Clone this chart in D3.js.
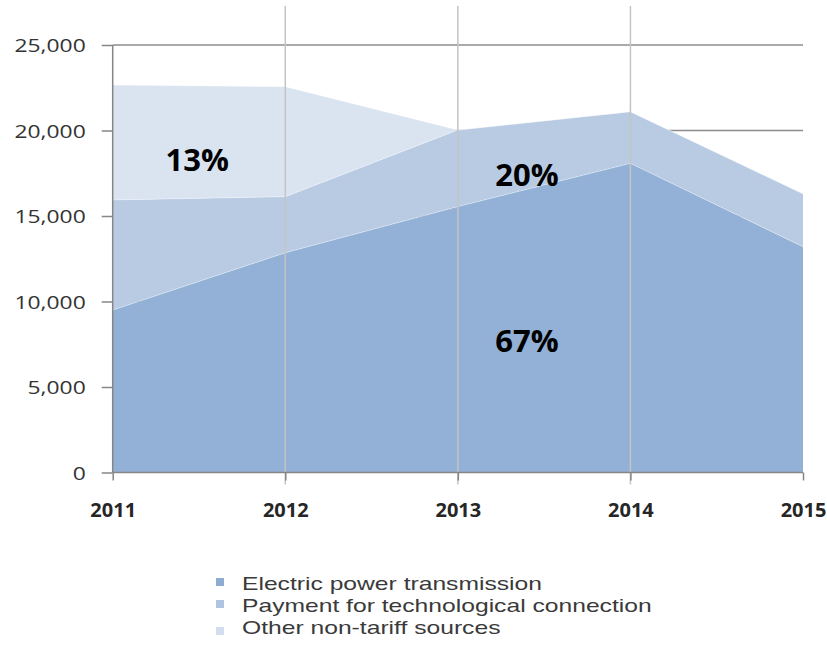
<!DOCTYPE html>
<html>
<head>
<meta charset="utf-8">
<script src="https://d3js.org/d3.v7.min.js"></script>
<style>
  body { margin: 0; background: #fff; }
</style>
</head>
<body>
<div id="Area"></div>
<script>
// chart values
var years = [2011, 2012, 2013, 2014, 2015];
var electric = [9500, 12850, 15550, 18080, 13200];
var technological = [6440, 3280, 4480, 3020, 3100];
var other = [6720, 6430, 0, 0, 0];
var seriesNames = ["Electric power transmission", "Payment for technological connection", "Other non-tariff sources"];
var yTicks = [0, 5000, 10000, 15000, 20000, 25000];
var shareLabels = ["13%", "20%", "67%"];
var shareYears = [2011.49, 2013.4, 2013.4];
var shareValues = [18360, 17460, 7750];

var colors = ["#93b1d6", "#b8cbe3", "#dae4f0"];
var legendColors = ["#8eabd2", "#afc4df", "#d2deee"];

// set the dimensions and margins of the graph
var margin = {top: 45, right: 24, bottom: 186.5, left: 112.7},
    width = 827 - margin.left - margin.right,
    height = 659 - margin.top - margin.bottom;

var svg = d3.select("#Area")
  .append("svg")
    .attr("width", 827)
    .attr("height", 659)
  .append("g")
    .attr("transform", "translate(" + margin.left + "," + margin.top + ")");

var rows = years.map(function(yr, i) {
  return {year: yr, e: electric[i], t: technological[i], o: other[i]};
});

var stacked = d3.stack().keys(["e", "t", "o"])(rows);

var x = d3.scaleLinear()
  .domain([2011, 2015])
  .range([0, width]);

var y = d3.scaleLinear()
  .domain([0, 25000])
  .range([height, 0]);

// horizontal grid lines, behind the areas
svg.append("g")
  .selectAll("line")
  .data(yTicks.filter(function(d) { return d > 0; }))
  .enter()
  .append("line")
    .attr("x1", 0)
    .attr("x2", width)
    .attr("y1", function(d) { return y(d); })
    .attr("y2", function(d) { return y(d); })
    .style("stroke", "#8c8c8c")
    .style("stroke-width", 1.5);

// areas
var area = d3.area()
  .x(function(d) { return x(d.data.year); })
  .y0(function(d) { return y(d[0]); })
  .y1(function(d) { return y(d[1]); });

svg.append("g")
  .selectAll("path")
  .data(stacked)
  .enter()
  .append("path")
    .attr("d", area)
    .style("fill", function(d, i) { return colors[i]; });

// thin light edge along each layer top
svg.append("g")
  .selectAll("path")
  .data(stacked)
  .enter()
  .append("path")
    .attr("d", d3.line()
      .x(function(d) { return x(d.data.year); })
      .y(function(d) { return y(d[1]); }))
    .style("fill", "none")
    .style("stroke", "#ffffff")
    .style("stroke-opacity", 0.35)
    .style("stroke-width", 1);

// vertical grid lines, drawn over the areas
svg.append("g")
  .selectAll("line")
  .data(years.slice(1, 4))
  .enter()
  .append("line")
    .attr("x1", function(d) { return x(d); })
    .attr("x2", function(d) { return x(d); })
    .attr("y1", -39)
    .attr("y2", height + 12)
    .style("stroke", "#c4c4c4")
    .style("stroke-width", 1.5);

// Y axis
var yAxis = svg.append("g")
  .call(d3.axisLeft(y).tickValues(yTicks).tickSize(11).tickPadding(16).tickFormat(d3.format(",")));
yAxis.select(".domain").attr("stroke", "#868686").attr("stroke-width", 1.5).attr("d", "M0," + y(25000) + "V" + y(0));
yAxis.selectAll(".tick line").attr("stroke", "#868686").attr("stroke-width", 1.5);
yAxis.selectAll(".tick text")
  .attr("x", null)
  .attr("dy", null)
  .attr("dominant-baseline", "central")
  .attr("transform", "translate(-27,0) scale(1.27,1)")
  .style("font-family", "'Open Sans', sans-serif")
  .style("font-size", "18px")
  .style("fill", "#333");

// X axis
var xAxis = svg.append("g")
  .attr("transform", "translate(0," + height + ")")
  .call(d3.axisBottom(x).tickValues(years).tickSize(8).tickPadding(22).tickFormat(d3.format("d")));
xAxis.select(".domain").attr("stroke", "#868686").attr("stroke-width", 1.5).attr("d", "M0,0H" + width);
xAxis.selectAll(".tick line").attr("stroke", "#868686").attr("stroke-width", 1.5);
xAxis.selectAll(".tick text")
  .style("font-family", "'Open Sans', sans-serif")
  .style("font-weight", "bold")
  .style("font-size", "20px")
  .style("fill", "#262626");

// share labels
svg.append("g")
  .selectAll("text")
  .data(shareLabels)
  .enter()
  .append("text")
    .attr("x", function(d, i) { return x(shareYears[i]); })
    .attr("y", function(d, i) { return y(shareValues[i]); })
    .attr("text-anchor", "middle")
    .attr("dominant-baseline", "central")
    .style("font-family", "'Open Sans', sans-serif")
    .style("font-weight", "bold")
    .style("font-size", "31px")
    .style("fill", "#000")
    .text(function(d) { return d; });

// legend
var legend = d3.select("svg").append("g")
  .attr("transform", "translate(216,590)");

var item = legend.selectAll("g")
  .data(seriesNames)
  .enter()
  .append("g")
    .attr("transform", function(d, i) { return "translate(0," + (i * 22) + ")"; });

item.append("rect")
  .attr("x", 0)
  .attr("y", function(d, i) { return i == 2 ? -7 : -12; })
  .attr("width", 8)
  .attr("height", 8)
  .style("fill", function(d, i) { return legendColors[i]; });

item.append("text")
  .attr("transform", "translate(26,0) scale(1.37,1)")
  .style("font-family", "'Liberation Sans', Arial, sans-serif")
  .style("font-size", "18px")
  .style("fill", "#3a3a3a")
  .text(function(d) { return d; });
</script>
</body>
</html>
